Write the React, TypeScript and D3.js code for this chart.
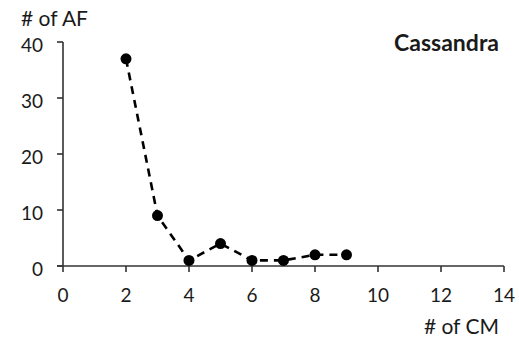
import * as d3 from "d3";

// values
const cmCounts = [2, 3, 4, 5, 6, 7, 8, 9];
const afCounts = [37, 9, 1, 4, 1, 1, 2, 2];
const xTicks = [0, 2, 4, 6, 8, 10, 12, 14];
const yTicks = [0, 10, 20, 30, 40];

const W = 519;
const H = 341;
const margin = { top: 42, right: 15, bottom: 75, left: 63 };
const font = "Lato, 'Open Sans', sans-serif";
const ink = "#1a1a1a";

export default function App() {
  const innerW = 504 - margin.left;
  const innerH = 266 - margin.top;

  const x = d3.scaleLinear().domain([0, 14]).range([0, innerW]);
  const y = d3.scaleLinear().domain([0, 40]).range([innerH, 0]);

  const pts = cmCounts.map((c, i) => [c, afCounts[i]] as [number, number]);
  const line = d3
    .line<[number, number]>()
    .x((d) => x(d[0]))
    .y((d) => y(d[1]));

  return (
    <svg
      width={W}
      height={H}
      style={{ position: "absolute", left: 0, top: 0, background: "#fff" }}
    >
      <g transform={`translate(${margin.left},${margin.top})`}>
        {/* axes */}
        <line x1={0} x2={0} y1={0} y2={innerH} stroke="#333" strokeWidth={1.6} />
        <line x1={-6} x2={innerW} y1={innerH} y2={innerH} stroke="#333" strokeWidth={1.6} />
        {yTicks.map((t) => (
          <g key={"y" + t} transform={`translate(0,${y(t)})`}>
            <line x1={-6} x2={0} stroke="#333" strokeWidth={1.6} />
            <text
              x={-20}
              y={10}
              textAnchor="end"
              fontFamily={font}
              fontSize={19}
              fill={ink}
            >
              {t}
            </text>
          </g>
        ))}
        {xTicks.map((t) => (
          <g key={"x" + t} transform={`translate(${x(t)},${innerH})`}>
            <line y1={0} y2={6} stroke="#333" strokeWidth={1.6} />
            <text
              y={36}
              textAnchor="middle"
              fontFamily={font}
              fontSize={19}
              fill={ink}
            >
              {t}
            </text>
          </g>
        ))}

        {/* data */}
        <path
          d={line(pts) ?? ""}
          fill="none"
          stroke="#000"
          strokeWidth={2.6}
          strokeDasharray="8 6"
        />
        {pts.map((d, i) => (
          <circle key={i} cx={x(d[0])} cy={y(d[1])} r={5.5} fill="#000" />
        ))}
      </g>

      <text x={21} y={26} fontFamily={font} fontSize={21} fill={ink}>
        # of AF
      </text>
      <text x={499} y={334} textAnchor="end" fontFamily={font} fontSize={21} fill={ink}>
        # of CM
      </text>
      <text
        x={499}
        y={51}
        textAnchor="end"
        fontFamily={font}
        fontSize={23}
        fontWeight="bold"
        fill={ink}
      >
        Cassandra
      </text>
    </svg>
  );
}
